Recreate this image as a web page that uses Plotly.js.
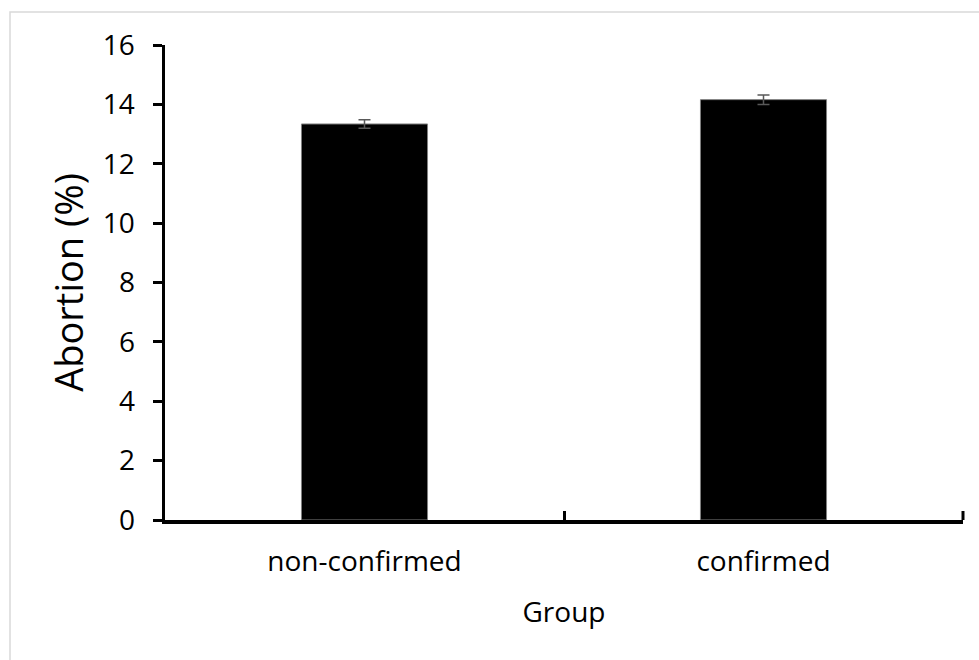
<!DOCTYPE html>
<html>
<head>
<meta charset="utf-8">
<script src="https://cdn.plot.ly/plotly-3.0.1.min.js"></script>
<style>html,body{margin:0;padding:0;background:#fff;}#chart{width:979px;height:660px;}</style>
</head>
<body>
<div id="chart"></div>
<script>
const categories = ["non-confirmed", "confirmed"];
const abortionPct = [13.34, 14.16];
const errorPct = [0.14, 0.16];
const yTickVals = [0, 2, 4, 6, 8, 10, 12, 14, 16];

const L = 165, R = 963, T = 45, B = 520;
const px = v => (v - L) / (R - L);
const py = v => (B - v) / (B - T);

const trace = {
  type: "bar",
  x: categories,
  y: abortionPct,
  marker: { color: "#000000", line: { color: "#7f7f7f", width: 1 } },
  error_y: { type: "data", array: errorPct, visible: true, color: "#595959", thickness: 1.5, width: 6 },
  hoverinfo: "none"
};

const layout = {
  width: 979, height: 660,
  paper_bgcolor: "#ffffff", plot_bgcolor: "#ffffff",
  margin: { l: L, r: 979 - R, t: T, b: 660 - B, pad: 0 },
  showlegend: false,
  bargap: 0.684,
  font: { family: "Open Sans, sans-serif", color: "#000000" },
  xaxis: {
    type: "category",
    showline: true, linecolor: "#000000", linewidth: 3.5,
    ticks: "inside", tickson: "boundaries", ticklen: 9, tickwidth: 3, tickcolor: "#000000",
    showgrid: false, zeroline: false,
    tickfont: { family: "Open Sans, sans-serif", size: 28, color: "#000000" },
    ticklabelstandoff: 14,
    title: { text: "Group", font: { family: "Open Sans, sans-serif", size: 28, color: "#000000" }, standoff: 25 }
  },
  yaxis: {
    range: [0, 16],
    tickvals: yTickVals,
    ticktext: yTickVals.map(String),
    showline: true, linecolor: "#000000", linewidth: 3.5,
    ticks: "outside", ticklen: 9, tickwidth: 3, tickcolor: "#000000",
    showgrid: false, zeroline: false,
    tickfont: { family: "Open Sans, sans-serif", size: 28, color: "#000000" },
    ticklabelstandoff: 12,
    title: { text: "Abortion (%)", font: { family: "Open Sans, sans-serif", size: 38, color: "#000000" }, standoff: 8 }
  },
  shapes: [
    {
      type: "rect", xref: "paper", yref: "paper",
      x0: px(10), x1: px(1000), y0: py(700), y1: py(12),
      line: { color: "#d9d9d9", width: 1.5 }, fillcolor: "rgba(0,0,0,0)", layer: "below"
    },
    {
      type: "line", xref: "paper", yref: "paper",
      x0: 1, x1: 1, y0: 0, y1: 9 / (B - T),
      line: { color: "#000000", width: 3 }
    }
  ]
};

Plotly.newPlot("chart", [trace], layout, { staticPlot: true, displayModeBar: false });
</script>
</body>
</html>
